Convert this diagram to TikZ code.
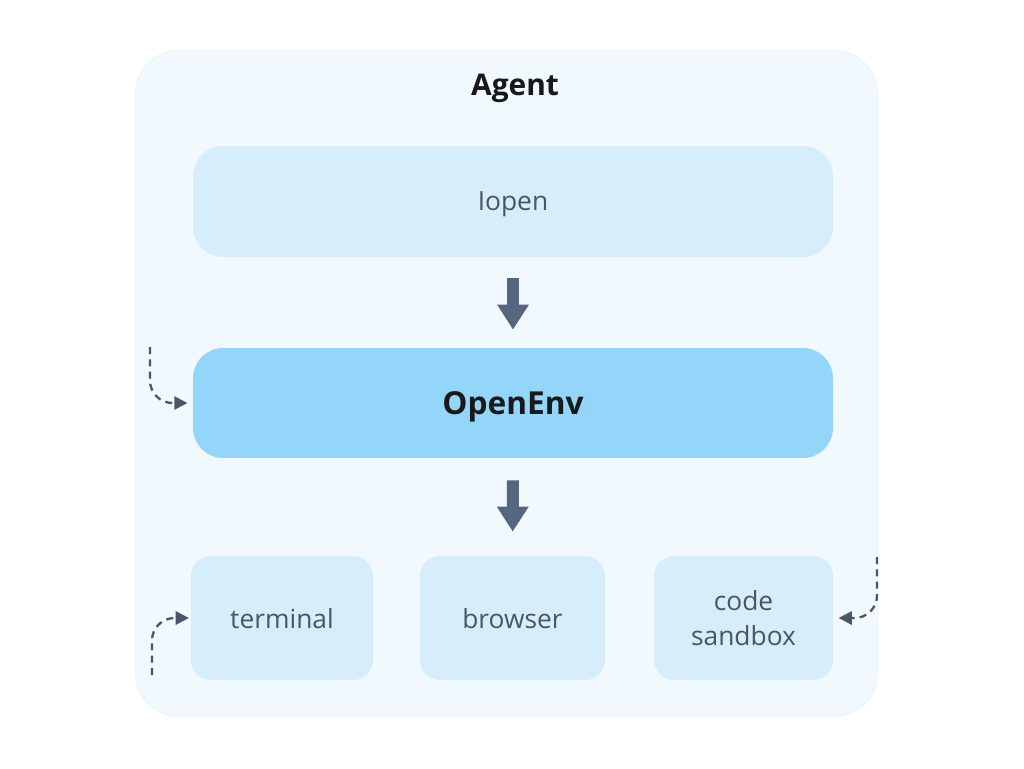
\documentclass[tikz,border=0pt]{standalone}
\usepackage{fontspec}
\setmainfont{Open Sans}
\usepackage{tikz}
\usetikzlibrary{arrows.meta,shapes}
\definecolor{outerbg}{HTML}{F1F9FE}
\definecolor{outerline}{HTML}{EAF5FC}
\definecolor{paleblue}{HTML}{D6EEFC}
\definecolor{midblue}{HTML}{93D6FA}
\definecolor{slate}{HTML}{56667F}
\definecolor{inktext}{HTML}{4A5568}
\tikzset{
  panel/.style = {draw = outerline, line width = 0.6pt, fill = outerbg, rounded corners = 0.9cm, minimum width = 14.86cm, minimum height = 13.34cm},
  layer/.style = {fill = paleblue, rounded corners = 0.6cm, minimum width = 12.8cm, minimum height = 2.22cm, text = inktext, text depth = 0pt, font = \fontsize{15}{20}\selectfont},
  tool/.style = {fill = paleblue, rounded corners = 0.4cm, minimum height = 2.48cm, text = inktext, text depth = 0pt, align = center, font = \fontsize{15}{20}\selectfont},
  flow/.style = {draw = slate, line width = 0.24cm, -{Triangle[width = 0.6cm, length = 0.5cm]}},
  hook/.style = {draw = inktext, line width = 1.3pt, dashed, dash pattern = on 4pt off 3pt, rounded corners = 0.45cm, -{Triangle[width = 7.5pt, length = 7.5pt]}}
}

\begin{document}
\begin{tikzpicture}[x = 0.02cm, y = -0.02cm]
\useasboundingbox (0,0) rectangle (1024,768);
\node[panel] (agent) at (506.5,383.5) {};
\node[font = \fontsize{17}{20}\selectfont\bfseries, text = black!90] (agenttitle) at (515,88) {Agent};

\node[layer] (iopen) at (513,201.5) {Iopen};
\node[layer, fill = midblue, minimum height = 2.2cm, text = black!90, font = \fontsize{18}{22}\selectfont\bfseries] (openenv) at (513,403) {OpenEnv};

\node[tool, minimum width = 3.64cm] (terminal) at (282,618) {terminal};
\node[tool, minimum width = 3.7cm] (browser) at (512.5,618) {browser};
\node[tool, minimum width = 3.58cm] (sandbox) at (743.5,618) {code\\sandbox};

\coordinate (inA) at (150,347);
\coordinate (inB) at (152,675);
\coordinate (inC) at (877,557);

\draw[flow, shorten <= 0.42cm, shorten >= 0.36cm] (iopen) -- (openenv);
\draw[flow, shorten <= 0.44cm, shorten >= 0.48cm] (openenv) -- (browser);

\draw[hook] (inA) |- ([xshift = -3pt]openenv.west);
\draw[hook] (inB) |- ([xshift = -1pt]terminal.west);
\draw[hook] (inC) |- ([xshift = 3pt]sandbox.east);
\end{tikzpicture}
\end{document}
